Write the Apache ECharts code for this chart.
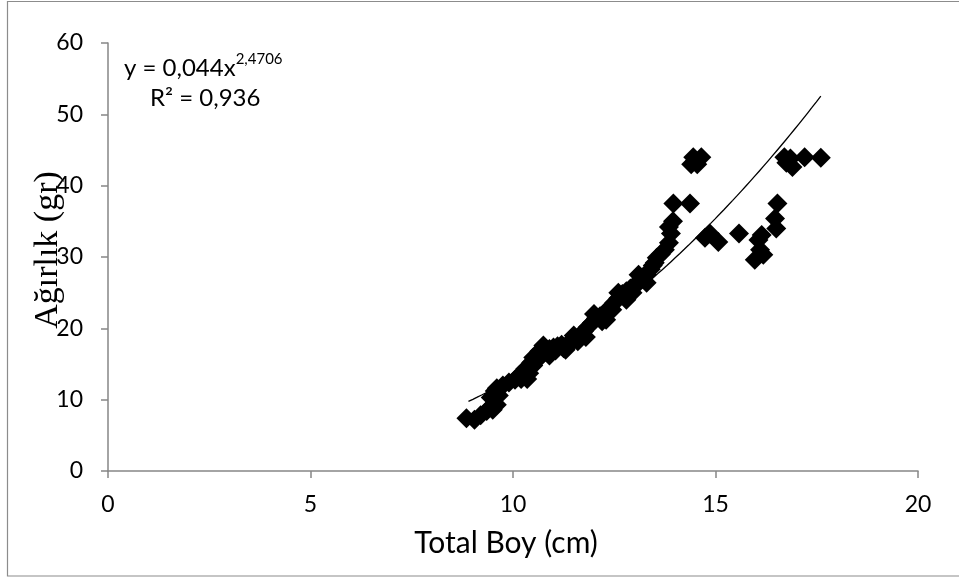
<!DOCTYPE html>
<html>
<head>
<meta charset="utf-8">
<script src="https://cdn.jsdelivr.net/npm/echarts@6/dist/echarts.min.js"></script>
<style>html,body{margin:0;padding:0;background:#fff}#c{width:959px;height:578px}</style>
</head>
<body>
<div id="c"></div>
<script>
// Scatter data: total length (cm) and weight (gr)
const lengthCm = [
  8.85, 9.05, 9.2, 9.35, 9.45, 9.5, 9.6, 9.45, 9.55, 9.6, 9.75, 9.9, 10.05, 10.2, 10.35, 10.4, 10.3, 10.5,
  10.6, 10.7, 10.8, 10.9, 11.0, 11.1, 11.2, 11.35, 11.45, 11.55, 11.65, 11.75, 11.85, 11.95, 12.05, 12.15,
  12.3, 12.4, 12.5, 12.6, 12.7, 12.8, 12.9, 13.0, 13.1, 13.2, 13.3, 13.4, 13.5, 13.55, 13.65, 13.75, 13.85,
  13.9, 13.85, 13.95,
  10.75, 10.9, 11.3, 11.8, 12.3, 12.8, 13.3, 10.5, 11.5, 12.0, 12.6, 13.1,
  10.45, 10.65, 11.05, 11.25, 11.6, 12.2, 12.45, 12.95, 13.45, 9.65, 10.15,
  13.96, 14.37, 14.4, 14.45, 14.5, 14.65, 14.55,
  14.74, 14.86, 15.07, 15.58,
  15.97, 16.06, 16.1, 16.14, 16.18, 16.47, 16.5, 16.53,
  16.7, 16.75, 16.85, 16.9, 17.2, 17.6
];
const weightGr = [
  7.4, 7.2, 7.8, 8.4, 9.0, 8.6, 9.3, 10.3, 11.2, 11.6, 12.0, 12.4, 12.8, 12.9, 12.9, 13.7, 14.3, 14.8,
  15.6, 16.2, 16.8, 17.1, 17.3, 17.5, 17.7, 17.8, 18.1, 18.6, 19.0, 19.6, 20.2, 20.8, 21.4, 21.7,
  22.3, 23.0, 23.6, 24.2, 24.8, 25.2, 25.6, 26.0, 26.4, 27.0, 27.5, 28.3, 29.2, 29.9, 30.4, 31.0, 32.0,
  33.3, 34.2, 35.0,
  17.6, 16.2, 17.0, 18.8, 21.2, 24.0, 26.4, 15.9, 19.0, 22.0, 25.0, 27.5,
  15.2, 16.8, 16.9, 17.2, 18.2, 21.0, 22.6, 25.0, 28.8, 10.6, 13.4,
  37.5, 37.5, 43.0, 44.0, 43.5, 44.0, 43.0,
  32.7, 33.3, 32.1, 33.3,
  29.6, 32.4, 31.0, 33.1, 30.3, 35.4, 34.0, 37.5,
  44.0, 43.2, 43.8, 42.6, 44.0, 43.9
];
// Power trendline shown on the chart: y = a * x^b
const trendA = 0.044;
const trendB = 2.4706;
const trendRange = [8.9, 17.6];
const xTicks = [0, 5, 10, 15, 20];
const yTicks = [0, 10, 20, 30, 40, 50, 60];

const points = lengthCm.map((x, i) => [x, weightGr[i]]);
const trend = [];
for (let i = 0; i <= 80; i++) {
  const x = trendRange[0] + (trendRange[1] - trendRange[0]) * i / 80;
  trend.push([x, trendA * Math.pow(x, trendB)]);
}

const chart = echarts.init(document.getElementById('c'), null, {renderer: 'canvas'});
const axisGray = '#868686';
const font = 'Lato, "Open Sans", sans-serif';
chart.setOption({
  animation: false,
  backgroundColor: '#fff',
  grid: {left: 108, right: 41, top: 43, bottom: 107, containLabel: false},
  xAxis: {
    type: 'value', min: xTicks[0], max: xTicks[xTicks.length - 1], interval: 5,
    name: 'Total Boy (cm)', nameLocation: 'middle', nameGap: 57,
    nameTextStyle: {fontFamily: font, fontSize: 30, color: '#000', padding: [0, 14, 0, 0]},
    axisLine: {show: true, lineStyle: {color: axisGray, width: 1.5}},
    axisTick: {show: true, length: 7, lineStyle: {color: axisGray, width: 1.5}},
    axisLabel: {fontFamily: font, fontSize: 23, color: '#000', margin: 22},
    splitLine: {show: false}
  },
  yAxis: {
    type: 'value', min: yTicks[0], max: yTicks[yTicks.length - 1], interval: 10,
    axisLine: {show: true, lineStyle: {color: axisGray, width: 1.5}},
    axisTick: {show: true, length: 7, lineStyle: {color: axisGray, width: 1.5}},
    axisLabel: {fontFamily: font, fontSize: 23, color: '#000', margin: 25},
    splitLine: {show: false}
  },
  graphic: [
    {type: 'rect', shape: {x: 7.5, y: 1.5, width: 960, height: 574.5}, style: {fill: 'none', stroke: '#8c8c8c', lineWidth: 1.2}, silent: true},
    {type: 'text', x: 48, y: 250, rotation: Math.PI / 2, silent: true, style: {
      text: 'Ağırlık (gr)', fontFamily: '"Liberation Serif", "DejaVu Serif", serif', fontSize: 34,
      fill: '#000', align: 'center', verticalAlign: 'middle'}},
    {type: 'text', left: 124, top: 52, style: {
      text: '{a|y = 0,044x}{s|2,4706}', rich: {
        a: {fontFamily: font, fontSize: 24, fill: '#000', verticalAlign: 'bottom'},
        s: {fontFamily: font, fontSize: 15, fill: '#000', verticalAlign: 'top', padding: [0,0,13,0]}
      }}},
    {type: 'text', left: 150, top: 86, style: {
      text: 'R² = 0,936', fontFamily: font, fontSize: 24, fill: '#000'}}
  ],
  series: [
    {type: 'scatter', data: points, symbol: 'diamond', symbolSize: 20,
     itemStyle: {color: '#000', opacity: 1}, z: 2},
    {type: 'line', data: trend, showSymbol: false, smooth: false,
     lineStyle: {color: '#000', width: 1.3}, z: 3}
  ]
});
</script>
</body>
</html>
